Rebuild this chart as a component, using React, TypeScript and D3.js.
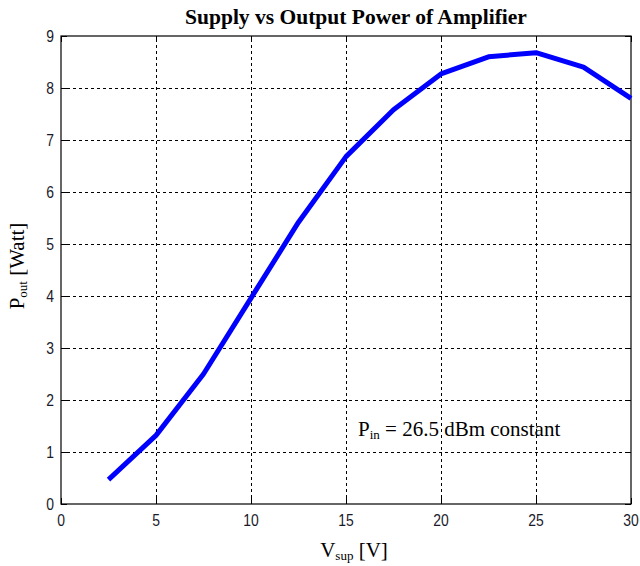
import React, { useEffect, useRef } from 'react';
import * as d3 from 'd3';

// supply voltage [V] and measured output power [W]
const vSup = [2.5, 5, 7.5, 10, 12.5, 15, 17.5, 20, 22.5, 25, 27.5, 30];
const pOut = [0.47, 1.32, 2.5, 3.96, 5.42, 6.68, 7.58, 8.27, 8.6, 8.68, 8.4, 7.8];
const xTicks = [0, 5, 10, 15, 20, 25, 30];
const yTicks = [0, 1, 2, 3, 4, 5, 6, 7, 8, 9];

const App = () => {
  const ref = useRef<SVGSVGElement>(null);

  useEffect(() => {
    document.body.style.margin = '0';
    const width = 640;
    const height = 566;
    const m = { left: 61, right: 9, top: 36, bottom: 62 };

    const svg = d3.select(ref.current);
    svg.selectAll('*').remove();

    const x = d3.scaleLinear().domain([0, 30]).range([m.left, width - m.right]);
    const y = d3.scaleLinear().domain([0, 9]).range([height - m.bottom, m.top]);
    const x0 = x(0), x1 = x(30), y0 = y(0), y1 = y(9);

    svg.append('rect').attr('width', width).attr('height', height).attr('fill', 'white');

    // dashed grid
    const grid = svg.append('g').attr('stroke', 'black').attr('stroke-width', 1)
      .attr('stroke-dasharray', '3,3').attr('shape-rendering', 'crispEdges');
    xTicks.slice(1, -1).forEach((t) => {
      grid.append('line').attr('x1', x(t)).attr('x2', x(t)).attr('y1', y0).attr('y2', y1);
    });
    yTicks.slice(1, -1).forEach((t) => {
      grid.append('line').attr('x1', x0).attr('x2', x1).attr('y1', y(t)).attr('y2', y(t));
    });

    // ticks (inside, on all four sides)
    const tk = svg.append('g').attr('stroke', 'black').attr('stroke-width', 1)
      .attr('shape-rendering', 'crispEdges');
    xTicks.forEach((t) => {
      tk.append('line').attr('x1', x(t)).attr('x2', x(t)).attr('y1', y0).attr('y2', y0 - 6);
      tk.append('line').attr('x1', x(t)).attr('x2', x(t)).attr('y1', y1).attr('y2', y1 + 6);
    });
    yTicks.forEach((t) => {
      tk.append('line').attr('x1', x0).attr('x2', x0 + 6).attr('y1', y(t)).attr('y2', y(t));
      tk.append('line').attr('x1', x1).attr('x2', x1 - 6).attr('y1', y(t)).attr('y2', y(t));
    });

    // box
    svg.append('rect').attr('x', x0).attr('y', y1).attr('width', x1 - x0).attr('height', y0 - y1)
      .attr('fill', 'none').attr('stroke', 'black').attr('stroke-width', 1.2);

    // tick labels (narrow sans, like MATLAB's export)
    const tf = 'Liberation Sans, Arial, sans-serif';
    svg.append('g').selectAll('text').data(xTicks).join('text')
      .attr('transform', (d) => `translate(${x(d)},${y0 + 22}) scale(0.82,1)`)
      .attr('text-anchor', 'middle').attr('font-family', tf).attr('font-size', 17)
      .attr('fill', '#1a1a2a')
      .text((d) => d);
    svg.append('g').selectAll('text').data(yTicks).join('text')
      .attr('transform', (d) => `translate(${x0 - 7},${y(d) + 6}) scale(0.82,1)`)
      .attr('text-anchor', 'end').attr('font-family', tf).attr('font-size', 17)
      .attr('fill', '#1a1a2a')
      .text((d) => d);

    // data line
    const line = d3.line<number>().x((d, i) => x(vSup[i])).y((d) => y(d));
    svg.append('path').datum(pOut).attr('d', line).attr('fill', 'none')
      .attr('stroke', '#0000ff').attr('stroke-width', 5).attr('stroke-linejoin', 'round');

    const serif = 'Liberation Serif, Times New Roman, serif';

    // title
    svg.append('text').attr('x', 356).attr('y', 24).attr('text-anchor', 'middle')
      .attr('font-family', serif).attr('font-weight', 'bold').attr('font-size', 21.5)
      .text('Supply vs Output Power of Amplifier');

    // x label
    const xl = svg.append('text').attr('x', (x0 + x1) / 2 + 8).attr('y', 557).attr('text-anchor', 'middle')
      .attr('font-family', serif).attr('font-size', 21);
    xl.append('tspan').text('V');
    xl.append('tspan').attr('font-size', 13).attr('dy', 3).text('sup');
    xl.append('tspan').attr('dy', -3).text(' [V]');

    // y label
    const yl = svg.append('text').attr('transform', `translate(24,${(y0 + y1) / 2 - 4}) rotate(-90)`)
      .attr('text-anchor', 'middle').attr('font-family', serif).attr('font-size', 21);
    yl.append('tspan').text('P');
    yl.append('tspan').attr('font-size', 13).attr('dy', 3).text('out');
    yl.append('tspan').attr('dy', -3).text(' [Watt]');

    // annotation
    const an = svg.append('text').attr('x', 358).attr('y', 436)
      .attr('font-family', serif).attr('font-size', 21);
    an.append('tspan').text('P');
    an.append('tspan').attr('font-size', 13).attr('dy', 3).text('in');
    an.append('tspan').attr('dy', -3).text(' = 26.5 dBm constant');
  }, []);

  return <svg ref={ref} width={640} height={566} style={{ display: 'block' }} />;
};

export default App;
